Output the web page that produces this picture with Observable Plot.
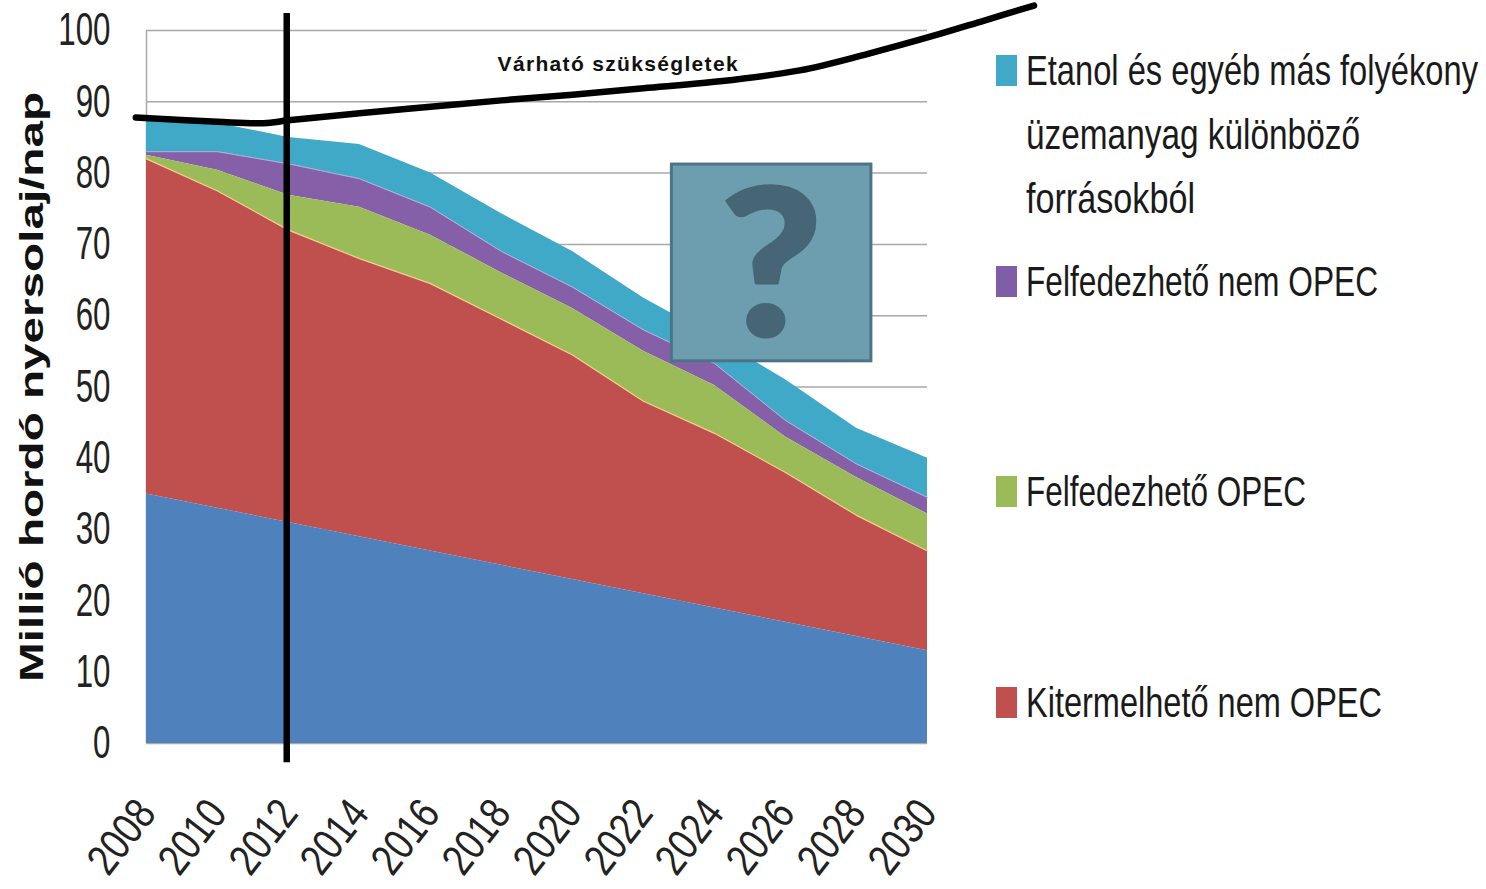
<!DOCTYPE html>
<html lang="hu">
<head>
<meta charset="utf-8">
<script src="https://cdn.jsdelivr.net/npm/d3@7"></script>
<script src="https://cdn.jsdelivr.net/npm/@observablehq/plot@0.6"></script>
<style>
html,body{margin:0;padding:0;background:#fff;overflow:hidden;width:1486px;height:889px}
#wrap{position:relative;width:1486px;height:889px}
#wrap svg{display:block;position:absolute;left:0;top:0;background:transparent}
.lg{position:absolute;font-family:"Liberation Sans",sans-serif;color:#1a1a1a;transform-origin:0 0}
</style>
</head>
<body>
<div id="wrap"></div>
<script>
const years = [2008,2010,2012,2014,2016,2018,2020,2022,2024,2026,2028,2030];
const blueTop   = [35,33,31,29,27,25,23,21,19,17,15,13];
const redTop    = [82,77.5,72,68,64.5,59.5,54.5,48,43.5,38,32,27];
const greenTop  = [82.5,80.4,76.9,75.2,71.3,66,61,55,50.2,43,37.3,32.2];
const purpleTop = [83,83,81.3,79.2,75.2,69,64,58,53.3,45.3,39.2,34.5];
const tealTop   = [87.5,87,85,84,80,74.3,69,62.5,57,51,44.2,40];
const needYears = [2007.7,2010,2011.3,2012,2014,2016,2018,2020,2022,2024,2026.4,2028.3,2030.2,2031.6,2033];
const needs     = [87.8,87.2,87,87.4,88.4,89.3,90.2,91,91.9,92.8,94.4,96.7,99.3,101.4,103.5];
const yTicks = [0,10,20,30,40,50,60,70,80,90,100];
const seriesColors = {blue:"#4f81bd",red:"#c0504d",green:"#9bbb59",purple:"#8560a8",teal:"#41a9c8"};
const yLabel = "Millió hordó nyersolaj/nap";
const needLabel = "Várható szükségletek";
const legendLabels = [
  ["Etanol és egyéb más folyékony","üzemanyag különböző","forrásokból"],
  ["Felfedezhető nem OPEC"],
  ["Felfedezhető OPEC"],
  ["Kitermelhető nem OPEC"]
];
const legendColors = ["#41a9c8","#7f5ea8","#9bbb59","#c0504d"];
const legendTops = [55,266,476,687];
const legendLineWidths = [[452,334,169],[352],[280],[356]];

const band = (lo, hi) => years.map((x,i)=>({x, y1: lo ? lo[i] : 0, y2: hi[i]}));
const edge = (arr) => years.map((x,i)=>({x, y: arr[i]}));
const body = '"Liberation Sans",sans-serif';
const arial = '"Liberation Sans",Arial,sans-serif';

const chart = Plot.plot({
  width:1486, height:889,
  marginLeft:146, marginRight:559, marginTop:30, marginBottom:146,
  x:{domain:[2008,2030]},
  y:{domain:[0,100]},
  style:{background:"transparent"},
  marks:[
    Plot.gridY(yTicks,{stroke:"#a8a8a8",strokeOpacity:1,strokeWidth:1.5}),
    Plot.ruleX([2008],{stroke:"#a8a8a8",strokeWidth:1.5}),
    Plot.areaY(band(purpleTop,tealTop),{x:"x",y1:"y1",y2:"y2",fill:seriesColors.teal}),
    Plot.areaY(band(greenTop,purpleTop),{x:"x",y1:"y1",y2:"y2",fill:seriesColors.purple}),
    Plot.areaY(band(redTop,greenTop),{x:"x",y1:"y1",y2:"y2",fill:seriesColors.green}),
    Plot.areaY(band(blueTop,redTop),{x:"x",y1:"y1",y2:"y2",fill:seriesColors.red}),
    Plot.areaY(band(null,blueTop),{x:"x",y1:"y1",y2:"y2",fill:seriesColors.blue}),
    Plot.line(edge(redTop),{x:"x",y:"y",stroke:"#f2cf8f",strokeWidth:1.2}),
    Plot.line(edge(purpleTop),{x:"x",y:"y",stroke:"#a9b7dc",strokeWidth:1}),
    Plot.axisY({ticks:yTicks,tickSize:0,tickPadding:36,label:null,fontSize:46,fontFamily:body,fill:"#222"}),
    Plot.axisY({ticks:[],tickSize:0,label:yLabel,labelAnchor:"center",labelArrow:"none",labelOffset:128,fontSize:34,fontWeight:"bold",fontFamily:arial,fill:"#111"}),
    Plot.axisX({ticks:years,tickFormat:"d",tickSize:0,tickPadding:62,tickRotate:-52,label:null,fontSize:44,fontFamily:body,fill:"#222"}),
    Plot.ruleX([2011.95],{y1:-2.7,y2:102.4,stroke:"#000",strokeWidth:6.5}),
    Plot.line(needYears.map((x,i)=>({x,y:needs[i]})),{x:"x",y:"y",curve:"catmull-rom",stroke:"#000",strokeWidth:6.5,strokeLinecap:"round"}),
    Plot.text([needLabel],{x:[2021.27],y:[95.3],text:d=>d,fontSize:21,fontWeight:"bold",fontFamily:arial,fill:"#111"}),
    Plot.rect([1],{x1:[2022.8],x2:[2028.42],y1:[53.6],y2:[81.2],fill:"#6d9eaf",stroke:"#4c7486",strokeWidth:3}),
    Plot.text(["?"],{x:[2025.6],y:[66.3],text:d=>d,fontSize:205,fontWeight:900,fontFamily:"Lato,"+arial,fill:"#466676",stroke:"#466676",strokeWidth:3})
  ]
});
const wrap = document.getElementById("wrap");
wrap.appendChild(chart);

// condensed look of the reference's tick labels and wide look of its axis title
const squeeze = (sel, k, adjust="spacingAndGlyphs") => chart.querySelectorAll(sel).forEach(t=>{
  t.setAttribute("textLength", t.getComputedTextLength()*k);
  t.setAttribute("lengthAdjust", adjust);
});
squeeze('[aria-label="y-axis tick label"] text', 0.68);
squeeze('[aria-label="x-axis tick label"] text', 0.82);
squeeze('[aria-label="y-axis label"] text', 590/ (chart.querySelector('[aria-label="y-axis label"] text')?.getComputedTextLength() || 590));
chart.querySelectorAll('text').forEach(t=>{
  if (t.textContent===needLabel){ t.setAttribute("textLength",240); t.setAttribute("lengthAdjust","spacing"); }
  if (t.textContent==="?"){ t.setAttribute("textLength",t.getComputedTextLength()*1.08); t.setAttribute("lengthAdjust","spacingAndGlyphs"); }
});

legendLabels.forEach((lines,i)=>{
  const sw = document.createElement("div");
  sw.className="lg";
  sw.style.cssText=`left:996px;top:${legendTops[i]}px;width:21px;height:31px;background:${legendColors[i]}`;
  wrap.appendChild(sw);
  lines.forEach((t,j)=>{
    const el=document.createElement("div");
    el.className="lg";
    el.textContent=t;
    el.style.cssText=`left:1026px;top:${legendTops[i]-8+j*64}px;font-size:42px;line-height:48px;white-space:nowrap`;
    wrap.appendChild(el);
    const w = el.getBoundingClientRect().width;
    el.style.transform=`scaleX(${legendLineWidths[i][j]/w})`;
  });
});
</script>
</body>
</html>
